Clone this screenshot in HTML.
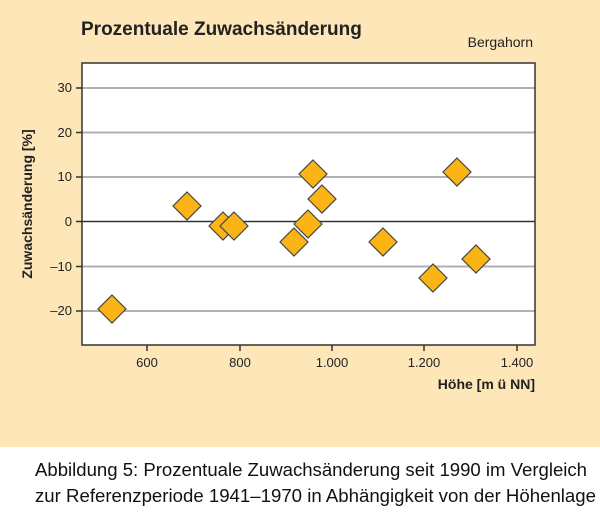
<!DOCTYPE html>
<html><head><meta charset="utf-8"><style>
body{margin:0;width:600px;height:513px;background:#fff;overflow:hidden}
</style></head><body>
<svg width="600" height="513" xmlns="http://www.w3.org/2000/svg" font-family="'Liberation Sans',sans-serif">
<rect x="0" y="0" width="600" height="447" fill="#fde6b8"/>
<text x="81" y="35" font-size="19" font-weight="bold" fill="#222">Prozentuale Zuwachsänderung</text>
<text x="533" y="47" font-size="14" fill="#222" text-anchor="end">Bergahorn</text>
<rect x="82" y="63" width="453" height="282" fill="#fff"/>
<g stroke="#b0b0b0" stroke-width="2">
<line x1="82" y1="88" x2="535" y2="88"/><line x1="82" y1="132.5" x2="535" y2="132.5"/>
<line x1="82" y1="177" x2="535" y2="177"/><line x1="82" y1="266.5" x2="535" y2="266.5"/>
<line x1="82" y1="311" x2="535" y2="311"/></g>
<line x1="82" y1="221.5" x2="535" y2="221.5" stroke="#333" stroke-width="1.5"/>
<rect x="82" y="63" width="453" height="282" fill="none" stroke="#333" stroke-width="1.5"/>
<g stroke="#333" stroke-width="1.5">
<line x1="76" y1="88" x2="82" y2="88"/><line x1="76" y1="132.5" x2="82" y2="132.5"/><line x1="76" y1="177" x2="82" y2="177"/><line x1="76" y1="221.5" x2="82" y2="221.5"/><line x1="76" y1="266.5" x2="82" y2="266.5"/><line x1="76" y1="311" x2="82" y2="311"/>
<line x1="147" y1="345" x2="147" y2="351"/><line x1="240" y1="345" x2="240" y2="351"/><line x1="332" y1="345" x2="332" y2="351"/><line x1="424" y1="345" x2="424" y2="351"/><line x1="517" y1="345" x2="517" y2="351"/></g>
<g font-size="13" fill="#222" text-anchor="end">
<text x="72" y="92">30</text><text x="72" y="137">20</text><text x="72" y="181">10</text><text x="72" y="226">0</text><text x="72" y="271">–10</text><text x="72" y="315">–20</text></g>
<g font-size="13" fill="#222" text-anchor="middle">
<text x="147" y="367">600</text><text x="240" y="367">800</text><text x="332" y="367">1.000</text><text x="424" y="367">1.200</text><text x="517" y="367">1.400</text></g>
<text x="535" y="389" font-size="14" font-weight="bold" fill="#222" text-anchor="end">Höhe [m ü NN]</text>
<text transform="translate(32,204) rotate(-90)" font-size="14" font-weight="bold" fill="#222" text-anchor="middle">Zuwachsänderung [%]</text>
<g fill="#fbb416" stroke="#444" stroke-width="1.2">
<path d="M112 295l14 14-14 14-14-14z"/>
<path d="M187 192l14 14-14 14-14-14z"/>
<path d="M223 212l14 14-14 14-14-14z"/>
<path d="M234 212l14 14-14 14-14-14z"/>
<path d="M294 228l14 14-14 14-14-14z"/>
<path d="M308 210l14 14-14 14-14-14z"/>
<path d="M322 185l14 14-14 14-14-14z"/>
<path d="M313 160l14 14-14 14-14-14z"/>
<path d="M383 228l14 14-14 14-14-14z"/>
<path d="M433 264l14 14-14 14-14-14z"/>
<path d="M457 158l14 14-14 14-14-14z"/>
<path d="M476 245l14 14-14 14-14-14z"/>
</g>
<text x="35" y="476" font-size="18" fill="#111" textLength="552" lengthAdjust="spacingAndGlyphs">Abbildung 5: Prozentuale Zuwachsänderung seit 1990 im Vergleich</text>
<text x="35" y="502" font-size="18" fill="#111" textLength="561" lengthAdjust="spacingAndGlyphs">zur Referenzperiode 1941–1970 in Abhängigkeit von der Höhenlage</text>
</svg>
</body></html>
